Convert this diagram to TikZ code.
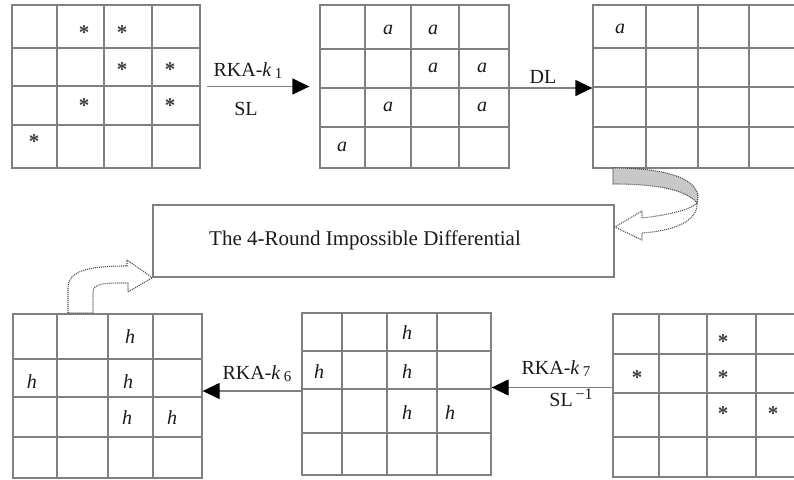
\documentclass[tikz,border=0pt]{standalone}
\usepackage{fontspec}
\setmainfont{Liberation Serif}
\usetikzlibrary{arrows.meta}
\definecolor{rule}{HTML}{808080}
\definecolor{ink}{HTML}{1A1A1A}
\definecolor{dotline}{HTML}{4A4A4A}
\definecolor{bandfill}{HTML}{C8C8C8}
\tikzset{
  gridbox/.style={draw=rule, line width=1.3pt, inner sep=0pt},
  gridline/.style={draw=rule, line width=1.3pt},
  cell/.style={inner sep=0pt, text=ink, font=\fontsize{20}{20}\selectfont},
  star/.style={inner sep=0pt, yshift=-3pt, text=ink!85, font=\fontsize{21}{21}\selectfont\bfseries},
  lbl/.style={inner sep=0pt, anchor=base, text=ink, font=\fontsize{20}{24}\selectfont},
  flow/.style={draw=rule, line width=1.3pt, -{Triangle[length=17pt,width=16pt,color=black]}},
  hollow/.style={draw=dotline, line width=1.1pt, dash pattern=on 1pt off 1pt, line join=round},
}
\newcommand{\kkey}[1]{\textit{k}\,\raisebox{-0.3ex}{\fontsize{15}{15}\selectfont #1}}
\newcommand{\cellstar}{*}
\begin{document}
\begin{tikzpicture}[x=1pt, y=-1pt]
\useasboundingbox (0,0) rectangle (794,479);

% ---- top row of state grids ----
\node[gridbox, minimum width=188pt, minimum height=163pt] (g1) at (106,86.5) {};
\foreach \x in {57,104,152} \draw[gridline] (\x,5) -- (\x,168);
\foreach \y in {48,86,125} \draw[gridline] (12,\y) -- (200,\y);
\node[star] (g1a) at (84,30) {\cellstar};
\node[star] (g1b) at (122,30) {\cellstar};
\node[star] (g1c) at (122,67) {\cellstar};
\node[star] (g1d) at (170,67) {\cellstar};
\node[star] (g1e) at (84,103) {\cellstar};
\node[star] (g1f) at (170,103) {\cellstar};
\node[star] (g1g) at (34,139) {\cellstar};

\node[gridbox, minimum width=189pt, minimum height=163pt] (g2) at (414.5,86.5) {};
\foreach \x in {365,411,459} \draw[gridline] (\x,5) -- (\x,168);
\foreach \y in {49,88,127} \draw[gridline] (320,\y) -- (509,\y);
\node[cell] (g2a) at (388,30) {\textit{a}};
\node[cell] (g2b) at (433,30) {\textit{a}};
\node[cell] (g2c) at (433,68) {\textit{a}};
\node[cell] (g2d) at (482,68) {\textit{a}};
\node[cell] (g2e) at (388,107) {\textit{a}};
\node[cell] (g2f) at (482,107) {\textit{a}};
\node[cell] (g2g) at (342,147) {\textit{a}};

\node[gridbox, minimum width=210pt, minimum height=163pt] (g3) at (698,86.5) {};
\foreach \x in {646,698,749} \draw[gridline] (\x,5) -- (\x,168);
\foreach \y in {48,87,127} \draw[gridline] (593,\y) -- (803,\y);
\node[cell] (g3a) at (620,29) {\textit{a}};

% ---- bottom row of state grids ----
\node[gridbox, minimum width=189pt, minimum height=164pt] (g4) at (107.5,396) {};
\foreach \x in {57,108,153} \draw[gridline] (\x,314) -- (\x,478);
\foreach \y in {359,397,437} \draw[gridline] (13,\y) -- (202,\y);
\node[cell] (g4a) at (130,337) {\textit{h}};
\node[cell] (g4b) at (32,382) {\textit{h}};
\node[cell] (g4c) at (128,382) {\textit{h}};
\node[cell] (g4d) at (127,418) {\textit{h}};
\node[cell] (g4e) at (172,418) {\textit{h}};

\node[gridbox, minimum width=189pt, minimum height=162pt] (g5) at (396.5,394) {};
\foreach \x in {342,387,437} \draw[gridline] (\x,313) -- (\x,475);
\foreach \y in {351,389,433} \draw[gridline] (302,\y) -- (491,\y);
\node[cell] (g5a) at (407,333) {\textit{h}};
\node[cell] (g5b) at (319,372) {\textit{h}};
\node[cell] (g5c) at (407,372) {\textit{h}};
\node[cell] (g5d) at (407,413) {\textit{h}};
\node[cell] (g5e) at (450,413) {\textit{h}};

\node[gridbox, minimum width=192pt, minimum height=163pt] (g6) at (709,395.5) {};
\foreach \x in {659,707,756} \draw[gridline] (\x,314) -- (\x,477);
\foreach \y in {354,393,437} \draw[gridline] (613,\y) -- (805,\y);
\node[star] (g6a) at (723,339) {\cellstar};
\node[star] (g6b) at (637,375) {\cellstar};
\node[star] (g6c) at (723,375) {\cellstar};
\node[star] (g6d) at (723,411) {\cellstar};
\node[star] (g6e) at (773,411) {\cellstar};

% ---- central box ----
\node[draw=rule, line width=1.3pt, minimum width=461pt, minimum height=72pt, inner sep=0pt] (idb) at (383.5,241) {};
\node[lbl, font=\fontsize{21}{24}\selectfont] (idt) at (365,245) {The 4-Round Impossible Differential};

% ---- transformation arrows ----
\draw[flow, shorten <=6pt, shorten >=10pt] (g1.east) -- (g2.west);
\node[lbl] (l1) at (248,76) {RKA-\kkey{1}};
\node[lbl] (l2) at (246,115) {SL};

\draw[flow] ([yshift=-1.5pt]g2.east) -- ([yshift=-1.5pt]g2.east -| g3.west);
\node[lbl] (l3) at (543,83) {DL};

\draw[flow] ([yshift=8pt]g6.west) -- ([yshift=8pt]g6.west -| g5.east);
\node[lbl] (l4) at (556,374) {RKA-\kkey{7}};
\node[lbl] (l5) at (571,406) {SL\raisebox{0.75ex}{\fontsize{16}{16}\selectfont \,−1}};

\draw[flow] ([yshift=3pt]g5.west) -- ([yshift=3pt]g5.west -| g4.east);
\node[lbl] (l6) at (257,379) {RKA-\kkey{6}};

% ---- twisted block arrow from the top-right grid into the box ----
\coordinate (twA) at (613,168);
\coordinate (twB) at (697,203);
\filldraw[hollow, fill=bandfill] (twA)
  .. controls (665,168) and (698,178) .. (698,198) -- (twB)
  .. controls (688,192) and (665,184) .. (613,184) -- cycle;
\filldraw[hollow, fill=white] (twB)
  .. controls (690,210) and (668,215) .. (642,218) -- (642,211)
  -- (idb.east |- 0,227) -- (642,240) -- (642,233)
  .. controls (672,231) and (698,222) .. (twB);

% ---- bent block arrow from the bottom-left grid into the box ----
\filldraw[hollow, fill=white] (68,313) -- (68,288)
  .. controls (68,272) and (85,266) .. (127,266) -- (127,260)
  -- (idb.south west) -- (128,292) -- (128,283)
  .. controls (105,283) and (93,283) .. (93,292) -- (93,313) -- cycle;
\end{tikzpicture}
\end{document}
